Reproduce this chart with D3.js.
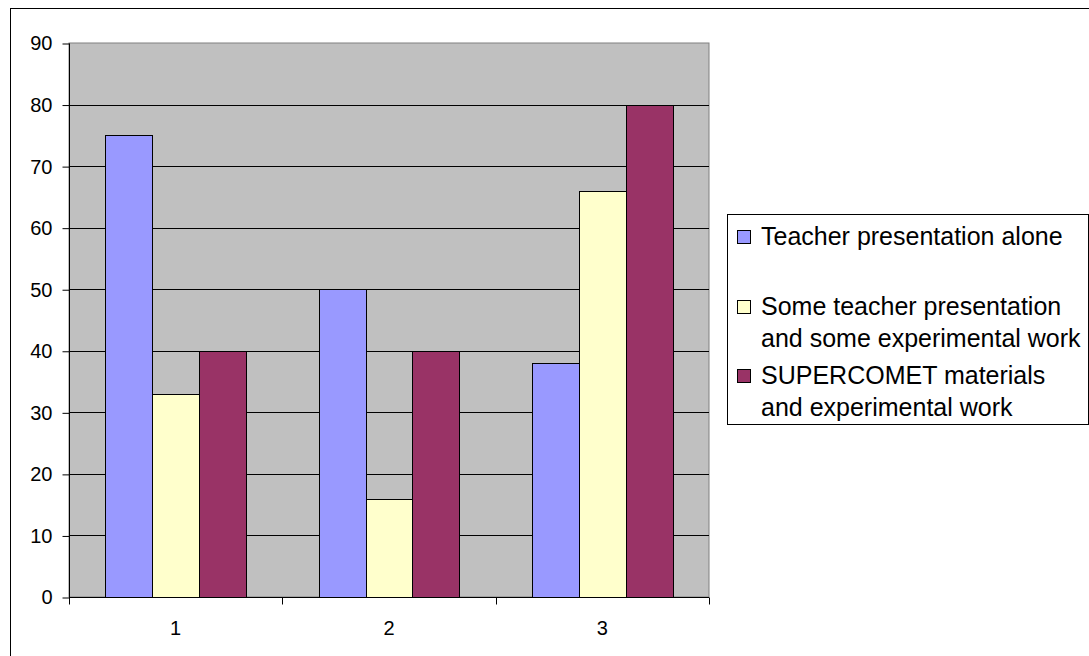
<!DOCTYPE html>
<html>
<head>
<meta charset="utf-8">
<script src="https://cdn.jsdelivr.net/npm/d3@7"></script>
<style>
  html, body { margin: 0; padding: 0; background: #fff; }
  svg { display: block; font-family: "Liberation Sans", Arial, sans-serif; }
</style>
</head>
<body>
<svg id="chart" width="1089" height="656"></svg>
<script>
// ---- data ----
const categories = ["1", "2", "3"];
const seriesNames = ["Teacher presentation alone", "Some teacher presentation and some experimental work", "SUPERCOMET materials and experimental work"];
const legendLines = [
  ["Teacher presentation alone"],
  ["Some teacher presentation", "and some experimental work"],
  ["SUPERCOMET materials", "and experimental work"]
];
const teacherAlone = [75, 50, 38];
const someTeacher = [33, 16, 66];
const supercomet = [40, 40, 80];
const yTicks = [0, 10, 20, 30, 40, 50, 60, 70, 80, 90];
const colors = ["#9999FF", "#FFFFCC", "#993366"];

const seriesValues = [teacherAlone, someTeacher, supercomet];

// ---- layout ----
const svg = d3.select("#chart");
const plot = { left: 69, right: 709, top: 43, bottom: 597 };

// outer chart frame
svg.append("rect")
  .attr("x", 10.5).attr("y", 8.5)
  .attr("width", 1200).attr("height", 800)
  .attr("fill", "#fff").attr("stroke", "#000").attr("stroke-width", 1);

const x = d3.scaleBand().domain(categories).range([plot.left, plot.right]).paddingInner(0).paddingOuter(0);
const xs = d3.scaleBand().domain(d3.range(seriesValues.length)).range([0, x.bandwidth()]).paddingInner(0).paddingOuter(0.77);
const y = d3.scaleLinear().domain([0, 90]).range([plot.bottom, plot.top]);

// plot background
svg.append("rect")
  .attr("x", plot.left).attr("y", plot.top)
  .attr("width", plot.right - plot.left).attr("height", plot.bottom - plot.top)
  .attr("fill", "#C0C0C0").attr("stroke", "#808080").attr("stroke-width", 1);

// gridlines
svg.append("g").selectAll("line")
  .data(yTicks.filter(t => t > 0 && t < 90))
  .join("line")
  .attr("x1", plot.left).attr("x2", plot.right)
  .attr("y1", d => Math.round(y(d)) + 0.5).attr("y2", d => Math.round(y(d)) + 0.5)
  .attr("stroke", "#000").attr("stroke-width", 1);

// bars
const rows = [];
categories.forEach((c, ci) => {
  seriesValues.forEach((vals, si) => rows.push({ c, si, v: vals[ci] }));
});
svg.append("g").selectAll("rect")
  .data(rows)
  .join("rect")
  .attr("x", d => Math.round(x(d.c) + xs(d.si)) + 0.5)
  .attr("y", d => Math.round(y(d.v)) + 0.5)
  .attr("width", Math.round(xs.bandwidth()))
  .attr("height", d => Math.round(y(0)) - Math.round(y(d.v)))
  .attr("fill", d => colors[d.si])
  .attr("stroke", "#000").attr("stroke-width", 1);

// y axis
const yAxis = svg.append("g")
  .attr("transform", `translate(${plot.left + 0.5},0.5)`)
  .call(d3.axisLeft(y).tickValues(yTicks).tickSize(7).tickPadding(10).tickFormat(d3.format("d")));
yAxis.select(".domain").attr("stroke", "#000").attr("d", `M0,${Math.round(y(90))}V${Math.round(y(0))}`);
yAxis.selectAll(".tick line").attr("stroke", "#000");
yAxis.selectAll(".tick text")
  .attr("font-size", 20).attr("fill", "#000")
  .attr("font-family", "Liberation Sans, Arial, sans-serif");

// x axis
const xAxisG = svg.append("g").attr("transform", `translate(0,${Math.round(y(0)) + 0.5})`);
xAxisG.append("line")
  .attr("x1", plot.left).attr("x2", plot.right)
  .attr("stroke", "#000");
const boundaries = categories.map(c => x(c)).concat([x(categories[categories.length - 1]) + x.bandwidth()]);
xAxisG.selectAll("line.tick")
  .data(boundaries)
  .join("line").attr("class", "tick")
  .attr("x1", d => Math.round(d) + 0.5).attr("x2", d => Math.round(d) + 0.5)
  .attr("y1", 0).attr("y2", 7)
  .attr("stroke", "#000");
xAxisG.selectAll("text")
  .data(categories)
  .join("text")
  .attr("x", d => x(d) + x.bandwidth() / 2)
  .attr("y", 37)
  .attr("text-anchor", "middle")
  .attr("font-size", 20)
  .attr("fill", "#000")
  .text(d => d);

// legend
const legend = svg.append("g");
legend.append("rect")
  .attr("x", 727.5).attr("y", 214.5)
  .attr("width", 361).attr("height", 210)
  .attr("fill", "#fff").attr("stroke", "#000").attr("stroke-width", 1);
const entryBase = [245, 315, 384];
const lineGap = 32;
legendLines.forEach((lines, i) => {
  const g = legend.append("g");
  g.append("rect")
    .attr("x", 737.5).attr("y", entryBase[i] - 14.5)
    .attr("width", 13).attr("height", 13)
    .attr("fill", colors[i]).attr("stroke", "#000").attr("stroke-width", 1);
  g.selectAll("text")
    .data(lines)
    .join("text")
    .attr("x", 761)
    .attr("y", (d, j) => entryBase[i] + j * lineGap)
    .attr("font-size", 25)
    .attr("fill", "#000")
    .text(d => d);
});
</script>
</body>
</html>
